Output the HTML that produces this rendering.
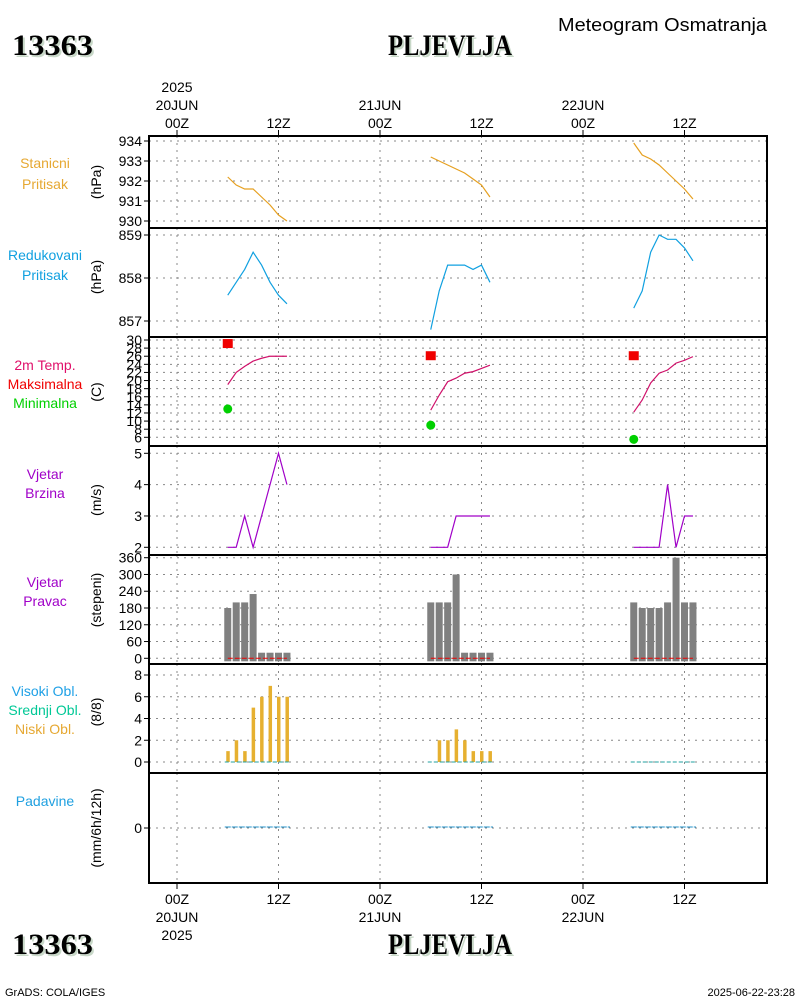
<!DOCTYPE html>
<html><head><meta charset="utf-8"><style>
body{margin:0;background:#fff;}
svg{display:block;font-family:"Liberation Sans",sans-serif;}
.tk{font-size:14px;fill:#000;}
.ttl{font-family:"Liberation Serif",serif;font-weight:bold;font-size:30px;}
</style></head><body>
<svg id="chart" width="800" height="1000" viewBox="0 0 800 1000" xmlns="http://www.w3.org/2000/svg">
<text x="558" y="31" font-size="18" textLength="209" lengthAdjust="spacingAndGlyphs">Meteogram Osmatranja</text>
<g><text class="ttl" x="14" y="57" fill="#c8d8c8" textLength="81" lengthAdjust="spacingAndGlyphs">13363</text><text class="ttl" x="12" y="55" textLength="81" lengthAdjust="spacingAndGlyphs">13363</text></g>
<g><text class="ttl" x="390" y="57" fill="#c8d8c8" textLength="124" lengthAdjust="spacingAndGlyphs">PLJEVLJA</text><text class="ttl" x="388" y="55" textLength="124" lengthAdjust="spacingAndGlyphs">PLJEVLJA</text></g>
<g><text class="ttl" x="14" y="956" fill="#c8d8c8" textLength="81" lengthAdjust="spacingAndGlyphs">13363</text><text class="ttl" x="12" y="954" textLength="81" lengthAdjust="spacingAndGlyphs">13363</text></g>
<g><text class="ttl" x="390" y="956" fill="#c8d8c8" textLength="124" lengthAdjust="spacingAndGlyphs">PLJEVLJA</text><text class="ttl" x="388" y="954" textLength="124" lengthAdjust="spacingAndGlyphs">PLJEVLJA</text></g>
<text x="5" y="996" font-size="11">GrADS: COLA/IGES</text>
<text x="795" y="996" font-size="11" text-anchor="end">2025-06-22-23:28</text>
<g id="plot"></g>
</svg>
<script>
// ---- data ----
const hours = [6,7,8,9,10,11,12,13];
const dayOffsets = [0,24,48];
const timeTicks = [0,12,24,36,48,60];
const timeTickLabels = ["00Z","12Z","00Z","12Z","00Z","12Z"];
const dateLabels = ["20JUN","21JUN","22JUN"];
const stanicni = [[932.2,931.8,931.6,931.6,931.2,930.8,930.3,930.0],[933.2,933.0,932.8,932.6,932.4,932.1,931.8,931.2],[933.9,933.3,933.1,932.8,932.4,932.0,931.6,931.1]];
const redukovani = [[857.6,857.9,858.2,858.6,858.3,857.9,857.6,857.4],[856.8,857.7,858.3,858.3,858.3,858.2,858.3,857.9],[857.3,857.7,858.6,859.0,858.9,858.9,858.7,858.4]];
const temp = [[19,22,23.5,24.8,25.5,26,26,26],[12.7,16.4,19.7,20.6,21.8,22.2,23,23.8],[12.2,15.2,19.4,21.8,22.6,24.3,25,25.9]];
const tmax = [29,26,26];
const tmin = [13,9,5.5];
const windSpeed = [[2,2,3,2,3,4,5,4],[2,2,2,3,3,3,3,3],[2,2,2,2,4,2,3,3]];
const windDir = [[180,200,200,230,20,20,20,20],[200,200,200,300,20,20,20,20],[200,180,180,180,200,360,200,200]];
const lowCloud = [[1,2,1,5,6,7,6,6],[0,2,2,3,2,1,1,1],[0,0,0,0,0,0,0,0]];
const precip = [[0,0,0,0,0,0,0,0],[0,0,0,0,0,0,0,0],[0,0,0,0,0,0,0,0]];
const ticksP1 = [930,931,932,933,934];
const ticksP2 = [857,858,859];
const ticksP3 = [6,8,10,12,14,16,18,20,22,24,26,28,30];
const ticksP4 = [2,3,4,5];
const ticksP5 = [0,60,120,180,240,300,360];
const ticksP6 = [0,2,4,6,8];
const ticksP7 = [0];

const NS="http://www.w3.org/2000/svg";
const g=document.getElementById('plot');
function mk(tag,attrs,parent){const e=document.createElementNS(NS,tag);for(const k in attrs)e.setAttribute(k,attrs[k]);(parent||g).appendChild(e);return e;}
const X0=149,X1=767;
function xs(h){return 177+h*(101.5/12);}
function lin(v0,y0,v1,y1){return v=>y0+(v-v0)*(y1-y0)/(v1-v0);}
const panels=[
 {top:136,bot:228,y:lin(934,141,930,221),ticks:ticksP1,title:["Stanicni","Pritisak"],tc:["#e6a832","#e6a832"],unit:"(hPa)"},
 {top:228,bot:337,y:lin(859,235,857,321),ticks:ticksP2,title:["Redukovani","Pritisak"],tc:["#10a0e0","#10a0e0"],unit:"(hPa)"},
 {top:337,bot:446,y:lin(30,340,6,437.3),ticks:ticksP3,title:["2m Temp.","Maksimalna","Minimalna"],tc:["#e0106a","#f00000","#00d000"],unit:"(C)",small:true},
 {top:446,bot:555,y:lin(5,453.3,2,547.3),ticks:ticksP4,title:["Vjetar","Brzina"],tc:["#a000c8","#a000c8"],unit:"(m/s)"},
 {top:555,bot:664,y:lin(0,658.3,360,557.7),ticks:ticksP5,title:["Vjetar","Pravac"],tc:["#a000c8","#a000c8"],unit:"(stepeni)"},
 {top:664,bot:773,y:lin(0,762,8,675),ticks:ticksP6,title:["Visoki Obl.","Srednji Obl.","Niski Obl."],tc:["#1ea0e6","#00c896","#e6a832"],unit:"(8/8)"},
 {top:773,bot:883,y:lin(0,828,1,818),ticks:ticksP7,title:["Padavine"],tc:["#20a0e0"],unit:"(mm/6h/12h)"}
];
const titleY=[[168,189],[260,280],[370,389,408],[479,498],[587,606],[696,715,734],[806]];
const unitY=[182,277,392,500,600,712,828];
panels.forEach((p,i)=>{
  const pg=mk('g',{});
  
  
  timeTicks.forEach(t=>{const l=mk('line',{x1:xs(t),x2:xs(t),y1:p.top,y2:p.bot,stroke:'#888','stroke-dasharray':'2,5'},pg);
    });
  p.ticks.forEach(v=>{const y=p.y(v);
    const l=mk('line',{x1:X0,x2:X1,y1:y,y2:y,stroke:'#888','stroke-dasharray':'2,5'},pg);
    
    mk('line',{x1:X0-5,x2:X0,y1:y,y2:y,stroke:'#000'},pg);
    const t=mk('text',{x:X0-7,y:y+5,'text-anchor':'end',class:'tk','font-size':p.small?'13':'14'},pg);t.textContent=v;
    });
  p.title.forEach((s,j)=>{const t=mk('text',{x:45,y:titleY[i][j],'text-anchor':'middle','font-size':'14',fill:p.tc[j]},pg);t.textContent=s;
    });
  const u=mk('text',{x:0,y:0,'text-anchor':'middle','font-size':'14',transform:`translate(101,${unitY[i]}) rotate(-90)`},pg);u.textContent=p.unit;
  
});
const P=panels;
function line(arr,panel,color,name){arr.forEach((d,k)=>{const pts=d.map((v,j)=>xs(dayOffsets[k]+hours[j])+','+P[panel].y(v)).join(' ');
  const e=mk('polyline',{points:pts,fill:'none',stroke:color,'stroke-width':1.2});
  });}
line(stanicni,0,'#e6a020','station-pressure-line');
line(redukovani,1,'#10a0e0','reduced-pressure-line');
line(temp,2,'#d0106a','temperature-line');
line(windSpeed,3,'#a000c8','wind-speed-line');
tmax.forEach((v,k)=>{const e=mk('rect',{x:xs(dayOffsets[k]+6)-5,y:P[2].y(v)-5,width:10,height:9,fill:'#f00000'});
  });
tmin.forEach((v,k)=>{const e=mk('circle',{cx:xs(dayOffsets[k]+6),cy:P[2].y(v),r:4.5,fill:'#00d000'});
  });
windDir.forEach((d,k)=>{d.forEach((v,j)=>{const x=xs(dayOffsets[k]+hours[j]);const y0=P[4].y(0),y1=P[4].y(v);
  const e=mk('rect',{x:x-3.5,y:y1,width:7,height:y0-y1+3,fill:'#808080'});
  });
  const l=mk('line',{x1:xs(dayOffsets[k]+6),x2:xs(dayOffsets[k]+13),y1:P[4].y(0),y2:P[4].y(0),stroke:'#f00000','stroke-dasharray':'5,2','stroke-width':1});
  });
lowCloud.forEach((d,k)=>{d.forEach((v,j)=>{const x=xs(dayOffsets[k]+hours[j]);const y0=P[5].y(0),y1=P[5].y(v);
  if(v>0){const e=mk('rect',{x:x-1.5,y:y1,width:3.5,height:y0-y1,fill:'#e6b030'});
  }});
  const l=mk('line',{x1:xs(dayOffsets[k]+6)-3,x2:xs(dayOffsets[k]+13)+3,y1:P[5].y(0),y2:P[5].y(0),stroke:'#20a0a0','stroke-dasharray':'4,2'});
  });
precip.forEach((d,k)=>{const y=P[6].y(Math.max(...d));
  const l=mk('line',{x1:xs(dayOffsets[k]+6)-3,x2:xs(dayOffsets[k]+13)+3,y1:y-1,y2:y-1,stroke:'#2090c8','stroke-dasharray':'6,1'});
  });
P.forEach(p=>{const r=mk('rect',{x:X0,y:p.top,width:X1-X0,height:p.bot-p.top,fill:'none',stroke:'#000','stroke-width':2});
  });
timeTicks.forEach((t,i)=>{const x=xs(t);
  mk('line',{x1:x,x2:x,y1:130,y2:136,stroke:'#000'});mk('line',{x1:x,x2:x,y1:883,y2:889,stroke:'#000'});
  const a=mk('text',{x:x,y:128,'text-anchor':'middle',class:'tk','font-size':'15'});a.textContent=timeTickLabels[i];
  
  const b=mk('text',{x:x,y:904,'text-anchor':'middle',class:'tk','font-size':'15'});b.textContent=timeTickLabels[i];
  });
dateLabels.forEach((s,k)=>{const x=xs(dayOffsets[k]);
  const a=mk('text',{x:x,y:110,'text-anchor':'middle',class:'tk','font-size':'15'});a.textContent=s;
  
  const b=mk('text',{x:x,y:922,'text-anchor':'middle',class:'tk','font-size':'15'});b.textContent=s;
  });
const y1=mk('text',{x:xs(0),y:92,'text-anchor':'middle',class:'tk','font-size':'15'});y1.textContent='2025';

const y2=mk('text',{x:xs(0),y:940,'text-anchor':'middle',class:'tk','font-size':'15'});y2.textContent='2025';

</script>
</body></html>
